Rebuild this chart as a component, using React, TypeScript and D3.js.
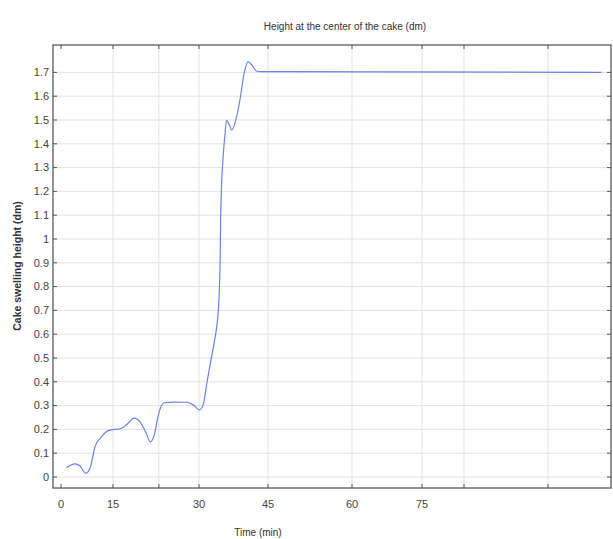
import React from 'react';
import * as d3 from 'd3';

// time (min) and cake height (dm)
const timeMin = [1.6, 4.0, 5.5, 7.1, 8.4, 9.8, 11.7, 13.6, 16.5, 17.5, 18.7, 19.7, 20.8, 21.5, 22.2, 22.9, 23.9, 25.5, 27.9, 29.0, 30.1, 30.9, 31.7, 32.6, 33.4, 34.2, 34.57, 34.72, 34.9, 35.3, 35.65, 36.0, 36.6, 37.1, 37.8, 38.9, 39.8, 40.7, 41.5, 42.4, 43.3, 113.5];
const heightDm = [0.039, 0.055, 0.046, 0.016, 0.038, 0.127, 0.169, 0.195, 0.205, 0.223, 0.247, 0.232, 0.184, 0.148, 0.176, 0.26, 0.312, 0.315, 0.314, 0.303, 0.282, 0.303, 0.394, 0.492, 0.576, 0.70, 0.884, 1.094, 1.22, 1.36, 1.44, 1.50, 1.479, 1.458, 1.486, 1.584, 1.696, 1.745, 1.731, 1.707, 1.703, 1.70];

const xTicks = [0, 15, 23, 30, 45, 60, 75, 84, 102];
const xTickLabels = ['0', '15', '', '30', '45', '60', '75', '', ''];
const yTicks = [0, 0.1, 0.2, 0.3, 0.4, 0.5, 0.6, 0.7, 0.8, 0.9, 1, 1.1, 1.2, 1.3, 1.4, 1.5, 1.6, 1.7];

const W = 613;
const H = 539;
const left = 53, right = 611, top = 45, bottom = 488;

export default function App() {
  // the source axis is unevenly stretched, so the x scale is piecewise
  const x = d3.scaleLinear()
    .domain([0, 15, 30, 45, 60, 75])
    .range([61, 113, 199, 268, 352, 422]);
  const y = d3.scaleLinear().domain([0, 1.7]).range([477, 72.4]);

  const pts: [number, number][] = timeMin.map((t, i) => [t, heightDm[i]]);
  const line = d3.line<[number, number]>()
    .x(d => x(d[0]))
    .y(d => y(d[1]))
    .curve(d3.curveMonotoneX);

  const tick = 4;
  const font = 'Liberation Sans, Arial, sans-serif';

  return (
    <div style={{ position: 'fixed', left: 0, top: 0 }}>
      <svg width={W} height={H} style={{ display: 'block', background: '#fff' }}>
        <text x={345} y={30} textAnchor="middle" fontSize={10} fontFamily={font} fill="#333">
          Height at the center of the cake (dm)
        </text>

        {/* grid */}
        {xTicks.slice(1).map((t, i) => (
          <line key={'gx' + i} x1={x(t)} x2={x(t)} y1={top} y2={bottom} stroke="#e2e2e2" strokeWidth={1} />
        ))}
        {yTicks.map((v, i) => (
          <line key={'gy' + i} x1={left} x2={right} y1={y(v)} y2={y(v)} stroke="#e2e2e2" strokeWidth={1} />
        ))}

        <path d={line(pts) || ''} fill="none" stroke="#6f80e8" strokeWidth={1.2} />

        {/* frame */}
        <rect x={left} y={top} width={right - left} height={bottom - top} fill="none" stroke="#666" strokeWidth={1.4} />

        {xTicks.map((t, i) => (
          <g key={'xt' + i}>
            <line x1={x(t)} x2={x(t)} y1={bottom} y2={bottom - tick} stroke="#555" />
            <line x1={x(t)} x2={x(t)} y1={top} y2={top + tick} stroke="#555" />
            <text x={x(t)} y={508} textAnchor="middle" fontSize={11} fontFamily={font} fill="#444">
              {xTickLabels[i]}
            </text>
          </g>
        ))}
        {yTicks.map((v, i) => (
          <g key={'yt' + i}>
            <line x1={left} x2={left + tick} y1={y(v)} y2={y(v)} stroke="#555" />
            <line x1={right} x2={right - tick} y1={y(v)} y2={y(v)} stroke="#555" />
            <text x={49} y={y(v)} dy="0.35em" textAnchor="end" fontSize={11} fontFamily={font} fill="#444">
              {String(v)}
            </text>
          </g>
        ))}

        <text x={258} y={536} textAnchor="middle" fontSize={10} fontFamily={font} fill="#333">
          Time (min)
        </text>
        <text transform="translate(21,266) rotate(-90)" textAnchor="middle" fontSize={10.5} fontWeight="bold"
          fontFamily={font} fill="#333">
          Cake swelling height (dm)
        </text>
      </svg>
    </div>
  );
}
